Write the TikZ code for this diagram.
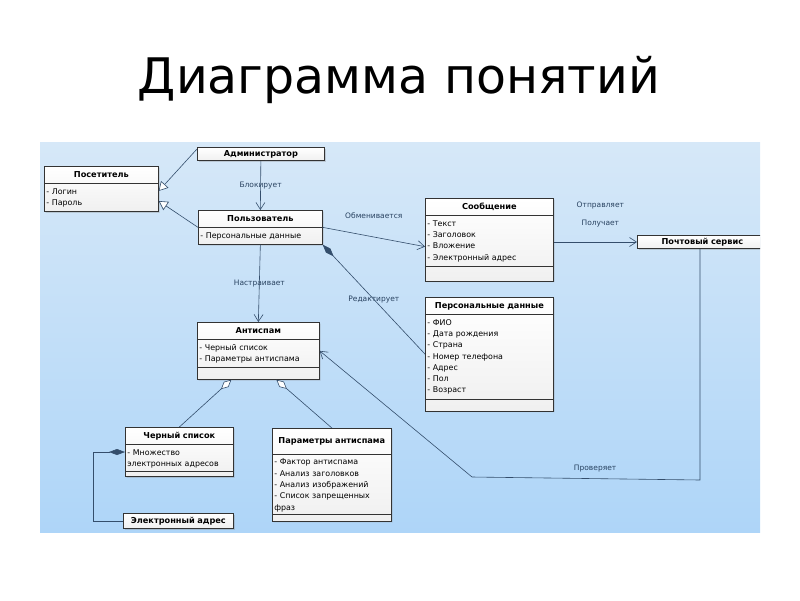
\documentclass[tikz,border=0pt]{standalone}
\usepackage{fontspec}
\setmainfont{DejaVu Sans}
\usetikzlibrary{shapes.multipart,arrows.meta,shadows,positioning}
\definecolor{panelTop}{RGB}{214,232,248}
\definecolor{panelBot}{RGB}{174,213,248}
\definecolor{wire}{RGB}{52,78,108}
\definecolor{lblcol}{RGB}{40,66,96}
\newcommand{\ctitle}[1]{\centering\fontsize{8.2}{11.3}\selectfont\bfseries\strut#1\par}
\newcommand{\attrline}[1]{\strut- #1}

\begin{document}
\begin{tikzpicture}[x=1pt, y=-1pt,
    clsbase/.style={draw=black!80, line width=0.7pt, top color=white, bottom color=black!6,
        anchor=north west, inner xsep=2pt, font=\fontsize{7.9}{11.3}\selectfont,
        drop shadow={shadow xshift=1.2pt, shadow yshift=-1.2pt, opacity=.3}},
    cls/.style={clsbase, rectangle split, rectangle split parts=3, align=left, inner ysep=2.5pt},
    cls2/.style={cls, rectangle split parts=2},
    clshead/.style={clsbase, align=center, inner ysep=1pt},
    wire/.style={draw=wire, line width=0.6pt},
    opn/.style={-{Straight Barb[length=7pt, width=9pt]}},
    gen/.style={-{Triangle[open, length=9pt, width=10pt, fill=white]}},
    comp/.style={{Diamond[length=16pt, width=6pt]}-},
    aggr/.style={{Diamond[open, length=14pt, width=7pt, fill=white]}-},
    lbl/.style={text=lblcol, font=\fontsize{7.5}{9}\selectfont, inner sep=1pt}]

    \useasboundingbox (0,0) rectangle (800,600);

    % Title
    \node[anchor=base, font=\fontsize{49}{55}\selectfont] (title) at (399,93) {Диаграмма понятий};

    % Panel
    \shade[top color=panelTop, bottom color=panelBot] (40,142) rectangle (760,532);

    \begin{scope}
    \clip (40,142) rectangle (760,532);

    % Classes
    \node[cls2, text width=110pt] (vis) at (44,166)
        {\ctitle{Посетитель}\nodepart{two}\attrline{Логин}\\\attrline{Пароль}};
    \node[clshead, text width=123pt] (adm) at (197,147) {\ctitle{Администратор}};
    \node[cls2, text width=120pt] (usr) at (198,210)
        {\ctitle{Пользователь}\nodepart{two}\attrline{Персональные данные}};
    \node[cls, text width=124pt] (msg) at (425,198)
        {\ctitle{Сообщение}\nodepart{two}\attrline{Текст}\\\attrline{Заголовок}\\\attrline{Вложение}\\\attrline{Электронный адрес}
         \nodepart{three}\rule{0pt}{9pt}};
    \node[clshead, text width=126pt] (mail) at (637,235) {\ctitle{Почтовый сервис}};
    \node[cls, text width=124pt] (pd) at (425,297)
        {\ctitle{Персональные данные}\nodepart{two}\attrline{ФИО}\\\attrline{Дата рождения}\\\attrline{Страна}\\\attrline{Номер телефона}\\\attrline{Адрес}\\\attrline{Пол}\\\attrline{Возраст}
         \nodepart{three}\rule{0pt}{6pt}};
    \node[cls, text width=118pt] (asp) at (197,322)
        {\ctitle{Антиспам}\nodepart{two}\attrline{Черный список}\\\attrline{Параметры антиспама}
         \nodepart{three}\rule{0pt}{6pt}};
    \node[cls, text width=104pt] (bl) at (125,427)
        {\ctitle{Черный список}\nodepart{two}\attrline{Множество}\\электронных адресов
         \nodepart{three}\rule{0pt}{0pt}};
    \node[cls, text width=115pt] (par) at (272,428)
        {\ctitle{\rule[-7.75pt]{0pt}{20pt}Параметры антиспама}\nodepart{two}\attrline{Фактор антиспама}\\\attrline{Анализ заголовков}\\\attrline{Анализ изображений}\\\attrline{Список запрещенных}\\фраз
         \nodepart{three}\rule{0pt}{1pt}};
    \node[clshead, text width=106pt, inner ysep=2pt] (ea) at (123,513) {\ctitle{Электронный адрес}};

    % Connectors
    \draw[wire, gen] ([yshift=-2pt]adm.north west) -- ([yshift=-2pt]vis.east);
    \draw[wire, gen] (usr.west) -- ([yshift=-12pt]vis.east);
    \draw[wire, opn] (adm.south) -- node[lbl] {Блокирует} (usr.north);
    \draw[wire, opn] (usr.south) -- node[lbl] {Настраивает} (asp.north);
    \draw[wire, opn] (usr.east) -- node[lbl, yshift=21pt] {Обменивается} ([yshift=-7pt]msg.west);
    \draw[wire, comp] (usr.south east) -- node[lbl] {Редактирует} (pd.west);
    \draw[wire, opn] (msg.east |- mail.west) -- node[lbl, xshift=5pt, yshift=18pt] {Получает}
        node[lbl, xshift=5pt, yshift=37pt] {Отправляет} (mail.west);
    \coordinate (chkR) at (700,480);
    \coordinate (chkL) at (472,477);
    \draw[wire, opn] (chkR |- mail.south) -- (chkR) -- node[lbl, pos=.46, yshift=10pt] {Проверяет} (chkL) -- (asp.east);
    \draw[wire, aggr] ([xshift=-27pt]asp.south) -- (bl.north);
    \draw[wire, aggr] ([xshift=18pt]asp.south) -- (par.north);
    \coordinate (eaL) at (93,0);
    \draw[wire, comp] ([yshift=-25pt]bl.north west) -| (eaL |- ea.west) -- (ea.west);
    \end{scope}
\end{tikzpicture}
\end{document}
